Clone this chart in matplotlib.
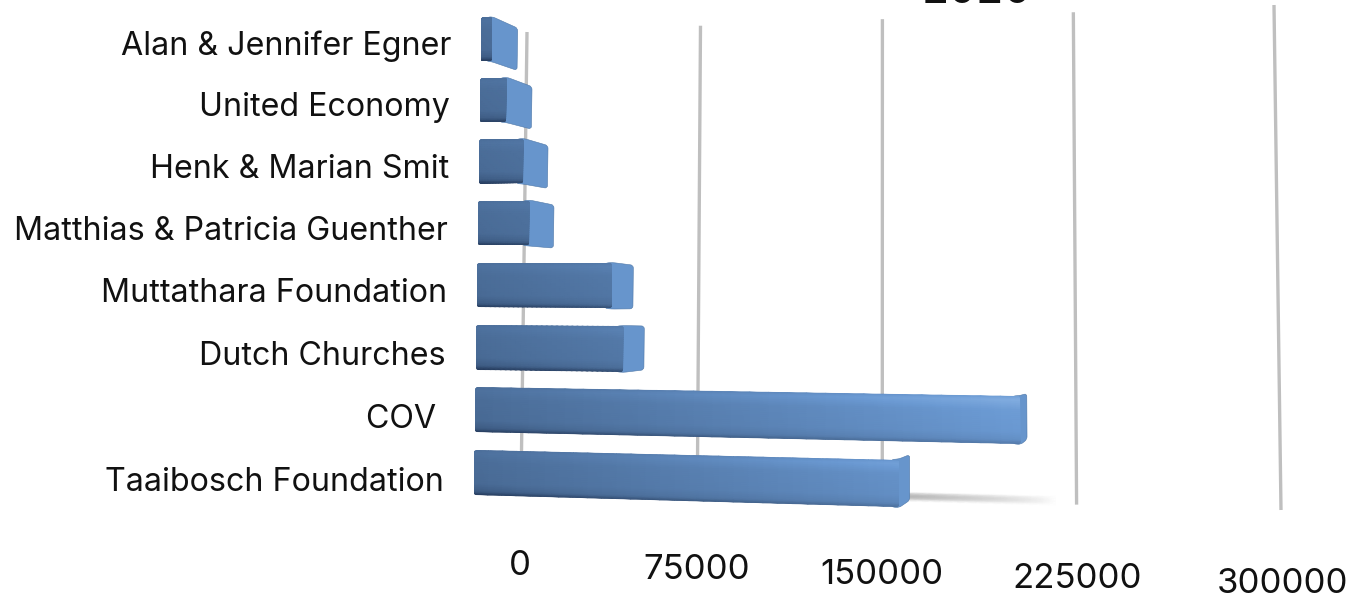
import numpy as np
import matplotlib
matplotlib.use("Agg")
import matplotlib.pyplot as plt
from matplotlib.colors import LinearSegmentedColormap
from matplotlib.patches import PathPatch
from matplotlib.path import Path

plt.rcParams["font.family"] = ["Inter", "DejaVu Sans"]

# top row first
donors = ["Alan & Jennifer Egner", "United Economy", "Henk & Marian Smit",
          "Matthias & Patricia Guenther", "Muttathara Foundation",
          "Dutch Churches", "COV ", "Taaibosch Foundation"]
amounts = [4700, 11500, 19000, 22000, 57000, 62000, 220000, 173000]
ticks = [0, 75000, 150000, 225000, 300000]
title = "2020"

W, H = 1349, 594
V_MAX = ticks[-1]
BAR_HALF = 0.36
VANISH = np.array([1200.0, 320.0])
DEPTH = 0.036
GRID_COLOR = "#bfbfbf"
CAP_COLOR = "#6795cc"

bar_cmap = LinearSegmentedColormap.from_list(
    "bar", [(0, "#24395a"), (0.3, "#4a6c97"), (0.75, "#6b9ad3"), (1, "#88b2e4")])
shadow_cmap = LinearSegmentedColormap.from_list("shadow", ["#ffffff", "#b4b4b4"])


def homography(src, dst):
    rows = []
    for (x, y), (u, v) in zip(src, dst):
        rows.append([x, y, 1, 0, 0, 0, -u * x, -u * y, -u])
        rows.append([0, 0, 0, x, y, 1, -v * x, -v * y, -v])
    return np.linalg.svd(np.array(rows, float))[2][-1].reshape(3, 3)


def apply_h(m, v, r):
    v, r = np.asarray(v, float) / V_MAX, np.asarray(r, float)
    d = m[2, 0] * v + m[2, 1] * r + m[2, 2]
    return (m[0, 0] * v + m[0, 1] * r + m[0, 2]) / d, (m[1, 0] * v + m[1, 1] * r + m[1, 2]) / d


corners = [(0, -0.5), (1, -0.5), (0, 7.5), (1, 7.5)]
GRID_H = homography(corners, [(527, 32), (1274, 5), (521, 490), (1281, 510)])
FRONT_H = homography(corners, [(481.5, 9), (1228, -8), (473.5, 504), (1236, 526)])


def front(v, r, d=0.0):
    x, y = apply_h(FRONT_H, v, r)
    return x + d * DEPTH * (VANISH[0] - x), y + d * DEPTH * (VANISH[1] - y)


def rounded(pts, rad=4.0):
    """Closed path through pts with softened corners."""
    pts = np.asarray(pts, float)
    verts, codes = [], []
    n = len(pts)
    for i in range(n):
        p, prev, nxt = pts[i], pts[i - 1], pts[(i + 1) % n]
        a = p + (prev - p) * min(rad / np.linalg.norm(prev - p), 0.5)
        b = p + (nxt - p) * min(rad / np.linalg.norm(nxt - p), 0.5)
        verts += [a, p, b]
        codes += [Path.MOVETO if i == 0 else Path.LINETO, Path.CURVE3, Path.CURVE3]
    verts.append(verts[0])
    codes.append(Path.CLOSEPOLY)
    return Path(verts, codes)


def draw_bar(ax, value, r, z):
    # end cap first, tucked under the front face so no gap shows
    top, bot = r - BAR_HALF, r + BAR_HALF
    tuck = min(value * 0.5, 3000)
    cap = [front(value - tuck, top), front(value, top - 0.01), front(value, top, 1),
           front(value, bot, 1), front(value, bot + 0.01), front(value - tuck, bot)]
    ax.add_patch(PathPatch(rounded(cap, 3), fc=CAP_COLOR, ec="#4f78a8", lw=0.4, zorder=z))

    vs = np.linspace(0, value, 30)
    ts = np.linspace(0, 1, 25)
    vv, tt = np.meshgrid(vs, ts)
    x, y = front(vv, r - BAR_HALF + tt * 2 * BAR_HALF)
    frac = np.clip((x - 475) / 550, 0, 1)
    highlight = np.interp(tt, [0, 0.07, 0.3, 1], [0.03, 0.16, 0.03, 0]) * (0.35 + frac)
    shade = np.interp(tt, [0, 0.75, 0.93, 1], [0, -0.02, -0.1, -0.3])
    s = 0.3 + 0.45 * frac + highlight + shade
    mesh = ax.pcolormesh(x, y, s, shading="gouraud", cmap=bar_cmap, vmin=0, vmax=1, zorder=z + 0.1)
    outline = [front(0, top), front(value, top), front(value, bot), front(0, bot)]
    mesh.set_clip_path(rounded(outline, 2.5), ax.transData)


fig = plt.figure(figsize=(W / 100, H / 100), dpi=100)
ax = fig.add_axes([0, 0, 1, 1])
ax.set_xlim(0, W)
ax.set_ylim(H, 0)
ax.axis("off")

for t in ticks:
    x, y = apply_h(GRID_H, [t, t], [-0.5, 7.5])
    ax.plot(x, y, color=GRID_COLOR, lw=2.4, zorder=1, solid_capstyle="butt")
    lx, _ = apply_h(GRID_H, t, 8.83)
    # the tick labels run down to the right more gently than the grid ends do
    ly = 566 + (lx - 522) * 18 / 758
    ax.text(lx, ly, str(t), ha="center", va="center", fontsize=25, color="#111111", clip_on=False)

# soft floor shadow behind the bottom bar
sv = np.linspace(amounts[-1], amounts[-1] + 60000, 14)
st = np.linspace(-1, 1, 7)
vv, tt = np.meshgrid(sv, st)
sx, sy = front(vv, 7 + 0.2 + tt * 0.07)
fade = (1 - (vv - amounts[-1]) / 60000) ** 0.7 * (1 - tt ** 2)
ax.pcolormesh(sx, sy, fade, shading="gouraud", cmap=shadow_cmap, vmin=0, vmax=1, zorder=2)

for i, (name, amount) in enumerate(zip(donors, amounts)):
    draw_bar(ax, amount, i, 3 + i)
    lx, ly = front(0, i)
    ax.text(lx - 30, ly + 7 + i * 0.45, name, ha="right", va="center", fontsize=23.2, color="#111111")

ax.text(977, 3, title, ha="center", va="baseline", fontsize=32, color="#111111", clip_on=False)

fig.savefig("out.png", dpi=100)
